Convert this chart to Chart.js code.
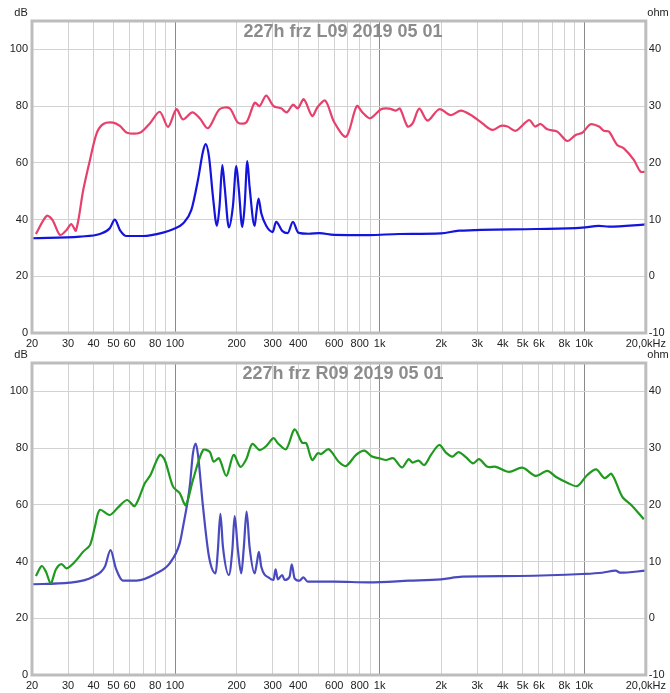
<!DOCTYPE html>
<html>
<head>
<meta charset="utf-8">
<script src="https://cdn.jsdelivr.net/npm/chart.js@4"></script>
<style>
  html, body { margin: 0; padding: 0; background: #fff; }
  #wrap { position: relative; width: 670px; height: 693px; overflow: hidden; }
  canvas { position: absolute; left: 0; }
  #topChart { top: 0; }
  #bottomChart { top: 341px; }
</style>
</head>
<body>
<div id="wrap">
  <canvas id="topChart" width="670" height="352"></canvas>
  <canvas id="bottomChart" width="670" height="352"></canvas>
</div>
<script>
// x axis grid and labels
const gridHz = [20, 30, 40, 50, 60, 70, 80, 90, 100, 200, 300, 400, 500, 600, 700, 800, 900,
  1000, 2000, 3000, 4000, 5000, 6000, 7000, 8000, 9000, 10000, 20000];
const hzLabels = ['20', '30', '40', '50', '60', '', '80', '', '100', '200', '300', '400', '', '600', '', '800', '',
  '1k', '2k', '3k', '4k', '5k', '6k', '', '8k', '', '10k', '20,0kHz'];
const dbTicks = [0, 20, 40, 60, 80, 100];
const ohmTicks = [-10, 0, 10, 20, 30, 40];

// L09: SPL (dB) and impedance (ohm)
const topSplHz = [20.9, 23.6, 25.2, 27.4, 29.5, 31.1, 32.8, 35.6, 38.4, 41.4, 44.6, 49.8, 53.8, 58.3, 67.3, 75.3,
  84.2, 92.5, 101.6, 109.4, 121.6, 132, 145, 165, 185, 203, 223, 245, 259, 279, 303, 330, 352, 377, 398, 426,
  468, 499, 543, 601, 686, 773, 826, 898, 1016, 1115, 1202, 1257, 1370, 1449, 1562, 1715, 1956, 2230, 2496,
  2842, 3180, 3558, 3912, 4212, 4628, 5374, 5748, 6128, 6600, 7386, 8262, 9080, 9780, 10750, 11800, 12480,
  13200, 14490, 15620, 17480, 18840, 20000];
const topSplDb = [34.9, 41.3, 39.8, 34.6, 36.3, 38.4, 36.1, 50.4, 61, 70.4, 73.7, 74.2, 73, 70.6, 70.6, 73.9,
  78, 72.7, 78.9, 75.3, 77.8, 75.7, 72.2, 78.9, 79.2, 74.2, 74.2, 81.2, 80, 83.7, 80, 79.2, 77.8, 80.5, 79.2, 82.4,
  76.5, 79.8, 81.9, 74.2, 69.2, 80, 77.7, 75.7, 78.9, 79.1, 78.4, 79.1, 72.8, 73.9, 79.1, 74.9, 78.9, 76.8, 78.4,
  76.5, 73.9, 71.6, 73, 72.8, 71.3, 75.1, 72.8, 73.7, 71.8, 71, 67.7, 69.8, 70.6, 73.6, 72.8, 71.3,
  71, 66.3, 65.1, 61, 56.9, 56.9];
const topImpHz = [20, 34.3, 42.9, 48, 50.8, 53.8, 57.9, 69.8, 87.4, 97.8, 109.4, 120.2, 129.5, 137, 141.2, 146.6,
  153.3, 160.3, 165, 170.3, 174.8, 183.4, 191.8, 199.3, 205.2, 213.2, 218.8, 225.6, 231.4, 245, 249.6, 256, 264,
  279, 300, 312, 334, 355, 377, 400, 450, 508, 600, 885, 1248, 1994, 2448, 5794, 9780, 11800, 13200, 20000];
const topImpOhm = [6.7, 7.0, 7.45, 8.45, 10.0, 8.15, 7.1, 7.1, 7.7, 8.3, 9.3, 11.7, 17.0, 22.0, 23.3, 21.1,
  14.0, 8.9, 12.3, 19.6, 15.8, 8.6, 12.3, 19.4, 15.2, 8.7, 12.3, 20.3, 15.8, 8.9, 11.1, 13.7, 11.1,
  8.9, 7.8, 9.6, 8.0, 7.6, 9.6, 7.7, 7.5, 7.6, 7.3, 7.27, 7.45, 7.57, 8.03, 8.33, 8.56, 8.9, 8.74, 9.16];

// R09: SPL (dB) and impedance (ohm)
const botSplHz = [20.9, 22.3, 23.4, 24.7, 26.2, 27.9, 29.5, 32.4, 35.6, 38.4, 40.6, 42.9, 48, 52.7, 58.3, 63.6,
  71.2, 75.9, 84.2, 89.1, 97.8, 105.4, 112.8, 122.4, 137, 147.7, 154.4, 164, 178.2, 193.4, 208.6, 223, 238.6,
  259, 279, 303, 318, 349, 384, 418, 438, 468, 499, 518, 564, 631, 686, 767, 842, 918, 997, 1075, 1167, 1286,
  1385, 1449, 1550, 1652, 1782, 1956, 2108, 2271, 2429, 2640, 2864, 3064, 3366, 3698, 4294, 4984, 5794, 6600,
  7254, 8262, 9246, 10346, 11446, 12574, 13606, 15326, 17152, 19554];
const botSplDb = [34.9, 38.4, 36.4, 32.3, 37.3, 39.1, 37.6, 39.9, 43.5, 45.8, 52.3, 58.2, 56.4, 59.1, 61.7, 59.6,
  67.6, 70.5, 77.6, 75.8, 66.4, 64.1, 59.9, 68.8, 79.3, 78.7, 75.2, 76.4, 70.2, 77.6, 73.4, 76.1, 81.5,
  79.3, 80.7, 83.5, 81.7, 79.6, 86.6, 81.9, 81.7, 75.8, 78.2, 77.9, 79.6, 75.2, 73.7, 77.6, 79.1, 77.0, 76.4, 75.8, 76.4, 73.2,
  76.1, 74.9, 75.6, 74.0, 77.6, 81.1, 78.4, 77.0, 78.6, 76.8, 74.6, 76.1, 73.4, 73.4, 71.6, 73.1, 70.2, 72.0,
  69.9, 67.8, 66.6, 70.5, 72.5, 69.4, 70.9, 62.9, 59.6, 54.9];
const botImpHz = [20, 30.6, 39.8, 45.4, 48.4, 51.4, 55.8, 64.8, 81.2, 94.2, 105.4, 109.4, 118, 122.4, 126.2, 129.5,
  137, 146.6, 158, 162, 166.6, 171.5, 183.4, 190.6, 195.6, 203, 210.8, 217, 223.8, 231.4, 245, 251, 257, 264,
  290, 303, 310, 318, 334, 343, 363, 372, 384, 406, 424, 445, 600, 885, 1396, 1994, 2540, 4804, 9780, 12240,
  14230, 15050, 20000];
const botImpOhm = [6.0, 6.27, 7.33, 9.09, 12.0, 8.8, 6.62, 6.62, 7.93, 9.69, 13.2, 16.1, 23.2, 29.1, 30.8, 28.8,
  19.7, 10.85, 7.93, 12.0, 18.4, 12.6, 7.63, 12.0, 18.0, 12.0, 7.93, 12.6, 18.8, 12.6, 7.93, 9.69, 11.7, 9.09,
  7.05, 6.75, 8.63, 6.87, 7.63, 6.75, 7.33, 9.5, 7.05, 6.62, 7.22, 6.45, 6.45, 6.34, 6.62, 6.87, 7.33, 7.45, 7.8, 8.03,
  8.39, 8.03, 8.39];

const FONT = '"Liberation Sans", Arial, sans-serif';

function pairs(xs, ys) {
    return xs.map((x, i) => ({ x: x, y: ys[i] }));
}

// frame, title and unit labels
const framePlugin = {
    id: 'framePlugin',
    afterDraw(chart, args, opts) {
        const ctx = chart.ctx;
        const a = chart.chartArea;
        ctx.save();
        ctx.strokeStyle = '#bdbdbd';
        ctx.lineWidth = 3;
        ctx.strokeRect(a.left, a.top, a.right - a.left, a.bottom - a.top);
        ctx.fillStyle = '#8c8c8c';
        ctx.font = 'bold 18px ' + FONT;
        ctx.textAlign = 'center';
        ctx.textBaseline = 'middle';
        ctx.fillText(opts.text, 343, a.top + 11);
        ctx.fillStyle = '#222';
        ctx.font = '11px ' + FONT;
        ctx.fillText('dB', 21, a.top - 8);
        ctx.fillText('ohm', 658, a.top - 8);
        ctx.restore();
    }
};

function makeChart(id, title, top, xHeight, splHz, splDb, splColor, impHz, impOhm, impColor) {
    const ctx = document.getElementById(id).getContext('2d');
    return new Chart(ctx, {
        type: 'line',
        data: {
            datasets: [{
                label: 'SPL',
                data: pairs(splHz, splDb),
                yAxisID: 'y',
                borderColor: splColor,
                borderWidth: 2.2,
                pointRadius: 0,
                tension: 0.3,
                fill: false
            }, {
                label: 'Impedance',
                data: pairs(impHz, impOhm),
                yAxisID: 'y1',
                borderColor: impColor,
                borderWidth: 2.2,
                pointRadius: 0,
                cubicInterpolationMode: 'monotone',
                fill: false
            }]
        },
        options: {
            responsive: false,
            animation: false,
            events: [],
            layout: { padding: { top: top, left: 0, right: 0, bottom: 0 } },
            plugins: {
                legend: { display: false },
                title: { display: false },
                tooltip: { enabled: false },
                framePlugin: { text: title }
            },
            scales: {
                x: {
                    type: 'logarithmic',
                    min: 20,
                    max: 20000,
                    afterBuildTicks: (scale) => { scale.ticks = gridHz.map(v => ({ value: v })); },
                    afterFit: (scale) => { scale.height = xHeight; },
                    border: { display: false },
                    grid: {
                        drawTicks: false,
                        lineWidth: 1,
                        color: (c) => [100, 1000, 10000].includes(c.tick && c.tick.value) ? '#8a8a8a' : '#d2d2d2'
                    },
                    ticks: {
                        autoSkip: false,
                        maxRotation: 0,
                        padding: 4,
                        color: '#222',
                        font: { family: FONT, size: 11 },
                        callback: (v, i) => hzLabels[i]
                    }
                },
                y: {
                    position: 'left',
                    min: 0,
                    max: 110,
                    afterBuildTicks: (scale) => { scale.ticks = dbTicks.map(v => ({ value: v })); },
                    afterFit: (scale) => { scale.width = 32; },
                    border: { display: false },
                    grid: { drawTicks: false, color: '#d2d2d2', lineWidth: 1 },
                    ticks: { padding: 4, color: '#222', font: { family: FONT, size: 11 } }
                },
                y1: {
                    position: 'right',
                    min: -10,
                    max: 45,
                    afterBuildTicks: (scale) => { scale.ticks = ohmTicks.map(v => ({ value: v })); },
                    afterFit: (scale) => { scale.width = 23; },
                    border: { display: false },
                    grid: { display: false, drawTicks: false },
                    ticks: { padding: 3, color: '#222', font: { family: FONT, size: 11 } }
                }
            }
        },
        plugins: [framePlugin]
    });
}

makeChart('topChart', '227h frz L09 2019 05 01', 21, 19,
    topSplHz, topSplDb, '#e6406c', topImpHz, topImpOhm, '#1414dc');
makeChart('bottomChart', '227h frz R09 2019 05 01', 22, 18,
    botSplHz, botSplDb, '#1f9a1f', botImpHz, botImpOhm, '#4a4ac0');
</script>
</body>
</html>
